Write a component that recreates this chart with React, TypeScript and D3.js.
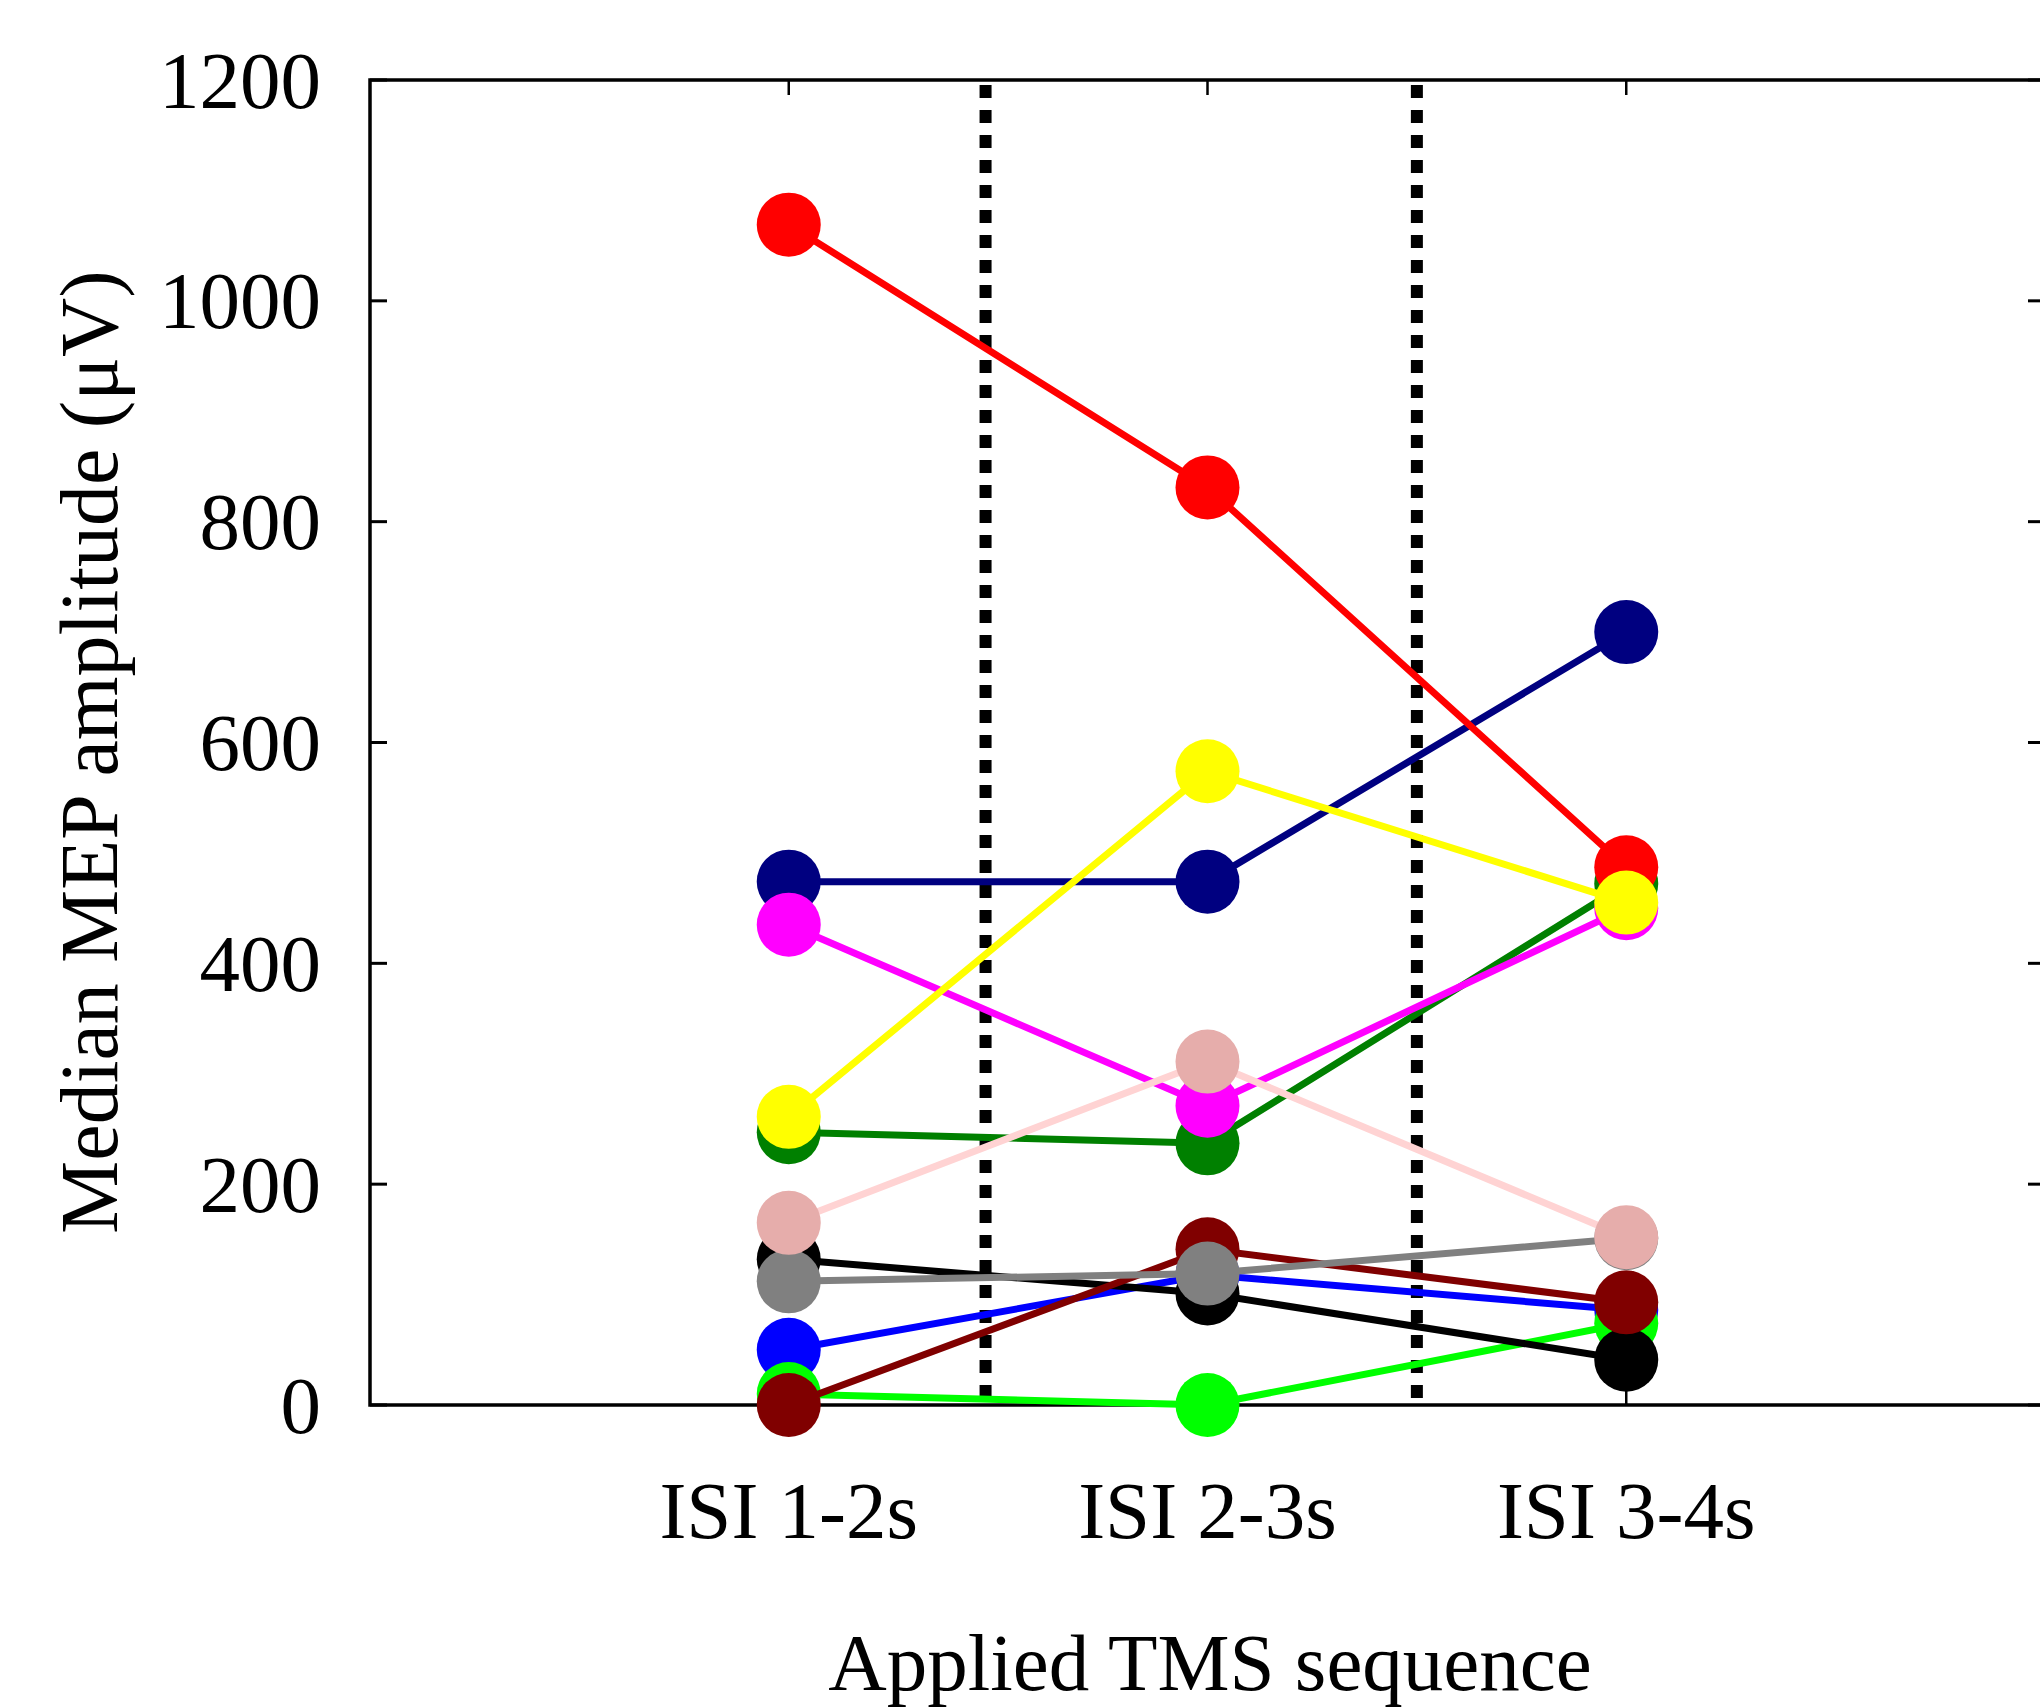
import { useEffect, useRef } from "react";
import * as d3 from "d3";

// categories on the x axis
const categories = ["ISI 1-2s", "ISI 2-3s", "ISI 3-4s"];
const yTicks = [0, 200, 400, 600, 800, 1000, 1200];
// dotted separators (in category units)
const dividers = [1.47, 2.5];

// median MEP per subject, one value per ISI condition
const blueVals = [50, 118, 86];
const navyVals = [474, 474, 700];
const limeVals = [10, 0, 74];
const blackVals = [132, 101, 41];
const greenVals = [247, 237, 472];
const redVals = [1069, 831, 487];
const magentaVals = [435, 271, 450];
const maroonVals = [0, 141, 93];
const grayVals = [112, 119, 151];
const pinkVals = [165, 311, 152];
const yellowVals = [261, 574, 455];

// drawing order, back to front
const subjects = [
  { values: blueVals, line: "#0000ff", marker: "#0000ff" },
  { values: navyVals, line: "#000080", marker: "#000080" },
  { values: limeVals, line: "#00ff00", marker: "#00ff00" },
  { values: blackVals, line: "#000000", marker: "#000000" },
  { values: greenVals, line: "#008000", marker: "#008000" },
  { values: redVals, line: "#ff0000", marker: "#ff0000" },
  { values: magentaVals, line: "#ff00ff", marker: "#ff00ff" },
  { values: maroonVals, line: "#800000", marker: "#800000" },
  { values: grayVals, line: "#808080", marker: "#808080" },
  { values: pinkVals, line: "#ffd3d3", marker: "#e6adab" },
  { values: yellowVals, line: "#ffff00", marker: "#ffff00" },
];

const W = 2040;
const H = 1707;
const FONT = "'Liberation Serif', 'Times New Roman', serif";

const App = () => {
  const svgRef = useRef(null);

  useEffect(() => {
    const svg = d3.select(svgRef.current);
    svg.selectAll("*").remove();

    const x = d3.scaleLinear().domain([0, 4]).range([370, 2045]);
    const y = d3.scaleLinear().domain([0, 1200]).range([1405, 80]);
    const [x0, x1] = x.range();
    const [yb, yt] = y.range();

    // frame
    svg
      .append("rect")
      .attr("x", x0)
      .attr("y", yt)
      .attr("width", x1 - x0)
      .attr("height", yb - yt)
      .attr("fill", "none")
      .attr("stroke", "#000")
      .attr("stroke-width", 3.5);

    // y ticks left + right
    const ytG = svg.append("g");
    ytG
      .selectAll("line.l")
      .data(yTicks)
      .enter()
      .append("line")
      .attr("x1", x0)
      .attr("x2", x0 + 17)
      .attr("y1", (d) => y(d))
      .attr("y2", (d) => y(d))
      .attr("stroke", "#000")
      .attr("stroke-width", 3);
    ytG
      .selectAll("line.r")
      .data(yTicks)
      .enter()
      .append("line")
      .attr("x1", x1 - 17)
      .attr("x2", x1)
      .attr("y1", (d) => y(d))
      .attr("y2", (d) => y(d))
      .attr("stroke", "#000")
      .attr("stroke-width", 3);
    ytG
      .selectAll("text")
      .data(yTicks)
      .enter()
      .append("text")
      .attr("x", 321)
      .attr("y", (d) => y(d))
      .attr("dy", "0.34em")
      .attr("text-anchor", "end")
      .style("font-family", FONT)
      .style("font-size", "81px")
      .text((d) => d);

    // x ticks top + bottom
    const idx = categories.map((_, i) => i + 1);
    svg
      .append("g")
      .selectAll("line")
      .data(idx)
      .enter()
      .append("line")
      .attr("x1", (d) => x(d))
      .attr("x2", (d) => x(d))
      .attr("y1", yt)
      .attr("y2", yt + 15)
      .attr("stroke", "#000")
      .attr("stroke-width", 2.5);
    svg
      .append("g")
      .selectAll("line")
      .data(idx)
      .enter()
      .append("line")
      .attr("x1", (d) => x(d))
      .attr("x2", (d) => x(d))
      .attr("y1", yb)
      .attr("y2", yb - 15)
      .attr("stroke", "#000")
      .attr("stroke-width", 2.5);
    svg
      .append("g")
      .selectAll("text")
      .data(categories)
      .enter()
      .append("text")
      .attr("x", (d, i) => x(i + 1))
      .attr("y", 1538)
      .attr("text-anchor", "middle")
      .style("font-family", FONT)
      .style("font-size", "81px")
      .text((d) => d);

    // dotted separators
    svg
      .append("g")
      .selectAll("line")
      .data(dividers)
      .enter()
      .append("line")
      .attr("x1", (d) => x(d))
      .attr("x2", (d) => x(d))
      .attr("y1", yt + 5)
      .attr("y2", yb)
      .attr("stroke", "#000")
      .attr("stroke-width", 12)
      .attr("stroke-dasharray", "13 12");

    // subjects: line then markers
    const line = d3
      .line()
      .x((d, i) => x(i + 1))
      .y((d) => y(d));
    subjects.forEach((s) => {
      const g = svg.append("g");
      g.append("path")
        .attr("d", line(s.values))
        .attr("fill", "none")
        .attr("stroke", s.line)
        .attr("stroke-width", 7);
      g.selectAll("circle")
        .data(s.values)
        .enter()
        .append("circle")
        .attr("cx", (d, i) => x(i + 1))
        .attr("cy", (d) => y(d))
        .attr("r", 32)
        .attr("fill", s.marker);
    });

    // axis titles
    svg
      .append("text")
      .attr("transform", "translate(117, 752) rotate(-90)")
      .attr("text-anchor", "middle")
      .style("font-family", FONT)
      .style("font-size", "82px")
      .text("Median MEP amplitude (\u03BCV)");
    svg
      .append("text")
      .attr("x", 1210)
      .attr("y", 1690)
      .attr("text-anchor", "middle")
      .style("font-family", FONT)
      .style("font-size", "81px")
      .text("Applied TMS sequence");
  }, []);

  return (
    <svg
      ref={svgRef}
      width={W}
      height={H}
      style={{ position: "absolute", left: 0, top: 0, background: "#fff" }}
    ></svg>
  );
};

export default App;
